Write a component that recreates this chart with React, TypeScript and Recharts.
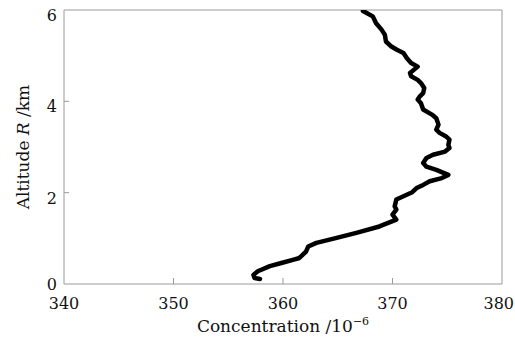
import { ScatterChart, Scatter, XAxis, YAxis } from 'recharts';

// profile read from bottom to top
const concentration = [
  357.9, 357.4, 357.3, 357.7, 358.8, 359.85, 360.9, 361.5, 362.1, 362.3,
  363.05, 364.9, 366.7, 368.8, 370.35, 370.0, 370.35, 370.2, 370.35, 371.0,
  371.8, 372.2, 372.8, 373.4, 374.5, 375.1, 374.0, 373.1, 372.8, 373.1,
  373.7, 374.8, 375.2, 375.1, 375.2, 374.9, 374.3, 374.0, 374.2, 374.0,
  373.6, 372.8, 372.6, 372.3, 372.5, 372.8, 372.9, 372.6, 372.3, 371.7,
  371.6, 372.3, 371.7, 371.3, 371.0, 370.4, 369.9, 369.4, 369.3, 369.0,
  368.5, 368.2, 367.3,
];
const altitude = [
  0.11, 0.13, 0.2, 0.28, 0.39, 0.46, 0.53, 0.57, 0.71, 0.82,
  0.9, 1.01, 1.12, 1.26, 1.41, 1.52, 1.63, 1.7, 1.85, 1.92,
  2.01, 2.1, 2.17, 2.25, 2.32, 2.39, 2.5, 2.57, 2.65, 2.76,
  2.83, 2.9, 2.98, 3.05, 3.16, 3.23, 3.31, 3.38, 3.49, 3.63,
  3.71, 3.82, 3.96, 4.04, 4.11, 4.18, 4.29, 4.4, 4.47, 4.55,
  4.62, 4.76, 4.84, 4.95, 5.06, 5.13, 5.2, 5.31, 5.46, 5.57,
  5.71, 5.86, 5.98,
];
const xTicks = [340, 350, 360, 370, 380];
const yTicks = [0, 2, 4, 6];

const profile = concentration.map((c, i) => ({ c, alt: altitude[i] }));

const FONT = '"DejaVu Serif", serif';
const AXIS = '#9a9a9a';

const BottomTick = (props: any) => {
  const { x, y, payload } = props;
  const edge = payload.value === 340 || payload.value === 380;
  const last = payload.value === 380;
  return (
    <g>
      {!edge && <line x1={x} x2={x} y1={y} y2={y - 6} stroke={AXIS} />}
      <text
        x={last ? x + 12 : x}
        y={y + 25}
        textAnchor={last ? 'end' : 'middle'}
        fontFamily={FONT}
        fontSize={16}
        fill="#111"
      >
        {payload.value}
      </text>
    </g>
  );
};

const TopTick = (props: any) => {
  const { x, y, payload } = props;
  if (payload.value === 340 || payload.value === 380) return <g />;
  return <line x1={x} x2={x} y1={y} y2={y + 6} stroke={AXIS} />;
};

const LeftTick = (props: any) => {
  const { x, y, payload } = props;
  const edge = payload.value === 0 || payload.value === 6;
  const dy = payload.value === 0 ? 6 : 11;
  return (
    <g>
      {!edge && <line x1={x} x2={x + 5} y1={y} y2={y} stroke={AXIS} />}
      <text x={x - 7} y={y + dy} textAnchor="end" fontFamily={FONT} fontSize={16} fill="#111">
        {payload.value}
      </text>
    </g>
  );
};

const RightTick = (props: any) => {
  const { x, y, payload } = props;
  if (payload.value === 0 || payload.value === 6) return <g />;
  return <line x1={x} x2={x - 5} y1={y} y2={y} stroke={AXIS} />;
};

const noDot = () => <g />;

export default function App() {
  return (
    <div style={{ position: 'absolute', left: 0, top: 0, background: '#fff' }}>
      <ScatterChart width={515} height={339} margin={{ top: 9, right: 12, bottom: 54, left: 63 }}>
        <XAxis
          dataKey="c"
          type="number"
          domain={[340, 380]}
          ticks={xTicks}
          height={1}
          tickSize={0}
          tickMargin={0}
          stroke={AXIS}
          tick={<BottomTick />}
          allowDataOverflow
          label={{
            content: ({ viewBox }: any) => (
              <text
                x={viewBox.x + viewBox.width / 2}
                y={viewBox.y + 48}
                textAnchor="middle"
                fontFamily={FONT}
                fontSize={17}
                fill="#111"
              >
                Concentration /10
                <tspan dy={-7} fontSize={11}>−6</tspan>
              </text>
            ),
          }}
        />
        <XAxis
          xAxisId="top"
          orientation="top"
          type="number"
          domain={[340, 380]}
          ticks={xTicks}
          height={1}
          tickSize={0}
          tickMargin={0}
          stroke={AXIS}
          tick={<TopTick />}
        />
        <YAxis
          dataKey="alt"
          type="number"
          domain={[0, 6]}
          ticks={yTicks}
          width={1}
          tickSize={0}
          tickMargin={0}
          stroke={AXIS}
          tick={<LeftTick />}
          allowDataOverflow
          label={{
            content: ({ viewBox }: any) => {
              const cx = 23;
              const cy = viewBox.y + viewBox.height / 2;
              return (
                <text
                  x={cx}
                  y={cy}
                  transform={`rotate(-90 ${cx} ${cy})`}
                  textAnchor="middle"
                  dominantBaseline="central"
                  fontFamily={FONT}
                  fontSize={17}
                  fill="#111"
                >
                  Altitude <tspan fontStyle="italic">R</tspan> /km
                </text>
              );
            },
          }}
        />
        <YAxis
          yAxisId="right"
          orientation="right"
          type="number"
          domain={[0, 6]}
          ticks={yTicks}
          width={1}
          tickSize={0}
          tickMargin={0}
          stroke={AXIS}
          tick={<RightTick />}
        />
        <Scatter
          data={profile}
          line={{ stroke: '#000', strokeWidth: 4.5, strokeLinejoin: 'round', strokeLinecap: 'round' }}
          lineType="joint"
          shape={noDot}
          isAnimationActive={false}
        />
      </ScatterChart>
    </div>
  );
}
